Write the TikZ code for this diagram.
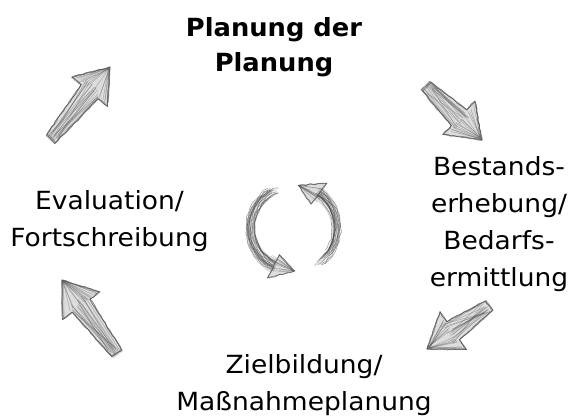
\documentclass[tikz,border=0pt]{standalone}
\usepackage{fontspec}
\setmainfont{DejaVu Sans}[FakeStretch=1.06]
\newfontfamily\titlefont{DejaVu Sans}[FakeStretch=1.03]
\usetikzlibrary{decorations.pathmorphing}

\tikzset{
  lbl/.style={align=center, font=\fontsize{25}{37}\selectfont, inner sep=0pt, anchor=base},
  ttl/.style={align=center, font=\titlefont\bfseries\fontsize{25}{35}\selectfont, inner sep=0pt, anchor=base},
  skfill/.style={fill=gray!45, opacity=0.6},
  skline/.style={draw=black!70, line width=0.55pt, opacity=0.55, decorate,
    decoration={random steps, segment length=4pt, amplitude=0.8pt}},
  skhatch/.style={draw=black!65, line width=0.5pt, opacity=0.4},
}

\newcommand\sketcharrow[2]{%
  \path (#1); \pgfgetlastxy{\skax}{\skay}%
  \path (#2); \pgfgetlastxy{\skbx}{\skby}%
  \pgfmathsetmacro\sklen{veclen(\skbx-\skax,\skby-\skay)}%
  \pgfmathsetmacro\skang{atan2(\skby-\skay,\skbx-\skax)}%
  \pgfmathsetmacro\skb{\sklen-32}%
  \begin{scope}[shift={(#1)},rotate=\skang]
    \path[skfill] (0,-6) -- (\skb,-11) -- (\skb,-23) -- (\sklen,0) -- (\skb,23) -- (\skb,11) -- (0,6) -- cycle;
    \foreach \k in {1,2,3,4}{\draw[skline] (rnd*3,-6) -- (\skb,-11) -- (\skb,-23) -- (\sklen,0) -- (\skb,23) -- (\skb,11) -- (rnd*3,6) -- cycle;}
    \foreach \k in {1,...,18}{\draw[skhatch] (rnd*10,rnd*12-6) -- (\skb+rnd*8,rnd*22-11);}
    \foreach \k in {1,...,18}{\draw[skhatch] (\sklen-rnd*3,rnd*2-1) -- (\skb+rnd*4,rnd*44-22);}
  \end{scope}}

\begin{document}
\begin{tikzpicture}[x=1pt,y=1pt]
\pgfmathsetseed{7}
\useasboundingbox (0,0) rectangle (573,416);

% labels (base = baseline of last line)
\node[ttl] (plan) at (274,344.3) {Planung der\\Planung};
\node[lbl] (best) at (499,130) {Bestands-\\erhebung/\\Bedarfs-\\ermittlung};
\node[lbl] (eval) at (109.5,169.3) {Evaluation/\\Fortschreibung};
\node[lbl] (ziel) at (304,6) {Zielbildung/\\Maßnahmeplanung};

% arrow ends
\coordinate (a1) at (50,276);  \coordinate (b1) at (110,349);
\coordinate (a2) at (425,331); \coordinate (b2) at (482,276);
\coordinate (a3) at (490,111); \coordinate (b3) at (427,67);
\coordinate (a4) at (118,61);  \coordinate (b4) at (62,136);

\sketcharrow{a1}{b1}
\sketcharrow{a2}{b2}
\sketcharrow{a3}{b3}
\sketcharrow{a4}{b4}

% central cycle
\coordinate (cyc) at (293,188);
\begin{scope}[shift={(cyc)}]
  % left arc
  \path[skfill] plot[domain=110:243,samples=30] ({cos(\x)*(44+6*(\x-110)/133)},{sin(\x)*(44+6*(\x-110)/133)})
     -- plot[domain=243:110,samples=30] ({cos(\x)*(42-6*(\x-110)/133)},{sin(\x)*(42-6*(\x-110)/133)}) -- cycle;
  \foreach \k in {1,...,16}{%
    \pgfmathsetmacro\rr{43+(rnd-0.5)*10}%
    \pgfmathsetmacro\sa{110+rnd*30}%
    \draw[skline] (\sa:\rr) arc[start angle=\sa, end angle=246, radius=\rr];}
  \path[skfill] (243:30) -- (272:43) -- (243:56) -- cycle;
  \foreach \k in {1,2,3}{\draw[skline] (243:30) -- (272:43) -- (243:56) -- cycle;}
  \foreach \k in {1,...,12}{\draw[skhatch] (272:43) -- ({243+rnd*3}:{30+rnd*26});}
  % right arc
  \path[skfill] plot[domain=-60:53,samples=30] ({cos(\x)*(44+6*(\x+60)/113)},{sin(\x)*(44+6*(\x+60)/113)})
     -- plot[domain=53:-60,samples=30] ({cos(\x)*(42-6*(\x+60)/113)},{sin(\x)*(42-6*(\x+60)/113)}) -- cycle;
  \foreach \k in {1,...,16}{%
    \pgfmathsetmacro\rr{43+(rnd-0.5)*10}%
    \pgfmathsetmacro\sa{-60+rnd*30}%
    \draw[skline] (\sa:\rr) arc[start angle=\sa, end angle=56, radius=\rr];}
  \path[skfill] (53:30) -- (83:43) -- (53:56) -- cycle;
  \foreach \k in {1,2,3}{\draw[skline] (53:30) -- (83:43) -- (53:56) -- cycle;}
  \foreach \k in {1,...,12}{\draw[skhatch] (83:43) -- ({53+rnd*3}:{30+rnd*26});}
\end{scope}
\end{tikzpicture}
\end{document}
